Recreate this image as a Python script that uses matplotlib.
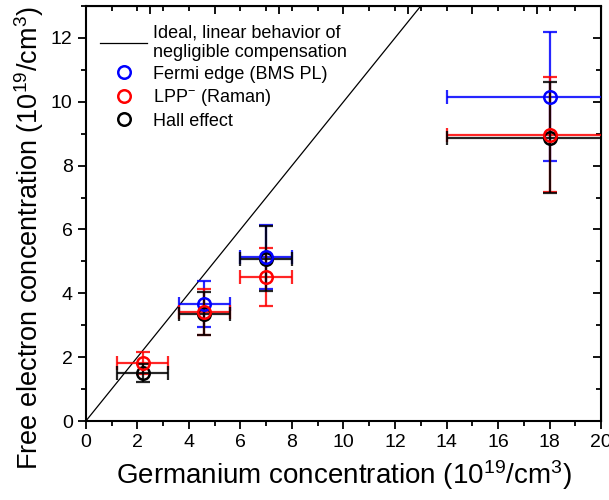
import matplotlib
matplotlib.use("Agg")
import matplotlib.pyplot as plt
from matplotlib.ticker import MultipleLocator

plt.rcParams['font.family'] = ['Liberation Sans', 'DejaVu Sans']
plt.rcParams['mathtext.default'] = 'regular'

# Ge concentration (1e19 cm^-3) and free electron density from three methods
ge_hall = [2.2, 4.6, 7.0, 18.0]
ge_hall_err = [1.0, 1.0, 1.0, 4.0]
n_hall = [1.51, 3.36, 5.09, 8.88]
n_hall_err = [0.29, 0.68, 1.02, 1.75]

ge_fermi = [4.6, 7.0, 18.0]
ge_fermi_err = [1.0, 1.0, 4.0]
n_fermi = [3.65, 5.13, 10.16]
n_fermi_err = [0.72, 1.0, 2.03]

ge_lpp = [2.2, 4.6, 7.0, 18.0]
ge_lpp_err = [1.0, 1.0, 1.0, 4.0]
n_lpp = [1.82, 3.42, 4.51, 8.97]
n_lpp_err = [0.34, 0.73, 0.9, 1.8]

ideal_x = [0, 13]

fig = plt.figure(figsize=(6.09, 5.0), dpi=100)
ax = fig.add_axes([0.141, 0.158, 0.846, 0.83])

ax.plot(ideal_x, ideal_x, color='black', lw=0.9,
        label='Ideal, linear behavior of\nnegligible compensation', zorder=2)


def series(x, xe, y, ye, color, label, z_bar, z_mark):
    ax.errorbar(x, y, xerr=xe, yerr=ye, fmt='none', ecolor=color,
                elinewidth=1.6, capsize=5, capthick=1.6, alpha=0.85, zorder=z_bar)
    ax.plot(x, y, 'o', ms=9, mfc='none', mec=color, mew=1.8,
            label=label, zorder=z_mark)


series(ge_fermi, ge_fermi_err, n_fermi, n_fermi_err, '#0000ff', 'Fermi edge (BMS PL)', 3, 7)
series(ge_lpp, ge_lpp_err, n_lpp, n_lpp_err, '#ff0000', 'LPP$^{-}$ (Raman)', 4, 8)
series(ge_hall, ge_hall_err, n_hall, n_hall_err, 'black', 'Hall effect', 5, 6)

ax.set_xlim(0, 20)
ax.set_ylim(0, 13)
ax.xaxis.set_major_locator(MultipleLocator(2))
ax.xaxis.set_minor_locator(MultipleLocator(1))
ax.yaxis.set_major_locator(MultipleLocator(2))
ax.yaxis.set_minor_locator(MultipleLocator(1))
ax.tick_params(which='major', direction='out', length=6, width=1.3, labelsize=14)
ax.tick_params(which='minor', direction='out', length=3.5, width=1.3)

# mirrored ticks pointing inward on top and right
top = ax.secondary_xaxis('top')
right = ax.secondary_yaxis('right')
for sec in (top, right):
    sec.tick_params(which='major', direction='in', length=6, width=1.3,
                    labeltop=False, labelright=False)
    sec.tick_params(which='minor', direction='in', length=3.5, width=1.3)
top.xaxis.set_minor_locator(MultipleLocator(1))
right.yaxis.set_minor_locator(MultipleLocator(1))

for s in ax.spines.values():
    s.set_linewidth(1.5)

ax.set_xlabel('Germanium concentration (10$^{19}$/cm$^{3}$)', fontsize=20, labelpad=5)
ax.set_ylabel('Free electron concentration (10$^{19}$/cm$^{3}$)', fontsize=19.5)
ax.yaxis.set_label_coords(-0.078, 0.44)

handles, labels = ax.get_legend_handles_labels()
ax.legend(handles, labels, loc='upper left', frameon=False, fontsize=13,
          handlelength=2.6, labelspacing=0.25, borderaxespad=0.4,
          handletextpad=0.3, bbox_to_anchor=(0.0, 0.99))

fig.savefig('out.png', dpi=100)
